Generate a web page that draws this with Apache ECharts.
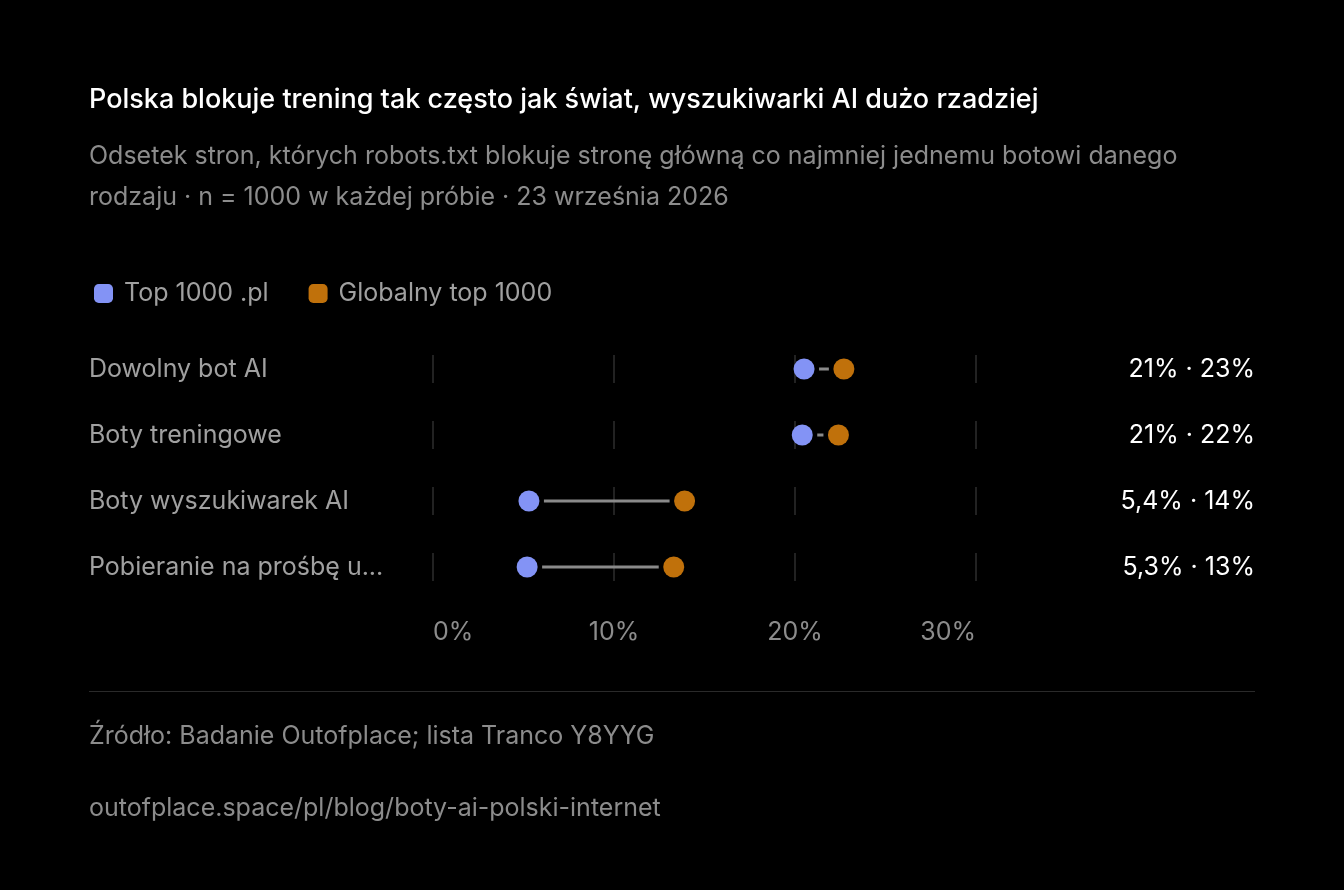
<!DOCTYPE html>
<html><head><meta charset="utf-8">
<script src="https://cdn.jsdelivr.net/npm/echarts@6/dist/echarts.min.js"></script>
<style>html,body{margin:0;background:#000}#c{width:1344px;height:890px}</style>
</head><body><div id="c"></div>
<script>
var categories=['Dowolny bot AI','Boty treningowe','Boty wyszukiwarek AI','Pobieranie na prośbę u...'];
var plValues=[20.5,20.4,5.3,5.2];
var globalValues=[22.7,22.4,13.9,13.3];
var valueLabels=['21% · 23%','21% · 22%','5,4% · 14%','5,3% · 13%'];
var tickValues=[0,10,20,30];
var font='Inter';
var fs=25;

var chart=echarts.init(document.getElementById('c'));
// krótkie pionowe kreski siatki w każdym wierszu
var gridData=[];
for(var i=0;i<categories.length;i++){for(var t=0;t<tickValues.length;t++){gridData.push([tickValues[t],i]);}}
var option={
  backgroundColor:'#000',
  animation:false,
  textStyle:{fontFamily:font},
  graphic:[
    {type:'text',left:89,top:86,style:{text:'Polska blokuje trening tak często jak świat, wyszukiwarki AI dużo rzadziej',fill:'#fff',font:'500 27px '+font}},
    {type:'text',left:89,top:136,style:{text:'Odsetek stron, których robots.txt blokuje stronę główną co najmniej jednemu botowi danego\nrodzaju · n = 1000 w każdej próbie · 23 września 2026',fill:'#8c8c8c',font:fs+'px '+font,lineHeight:41}},
    {type:'rect',left:89,top:691,shape:{width:1166,height:1},style:{fill:'#2a2a2a'}},
    {type:'text',left:89,top:724,style:{text:'Źródło: Badanie Outofplace; lista Tranco Y8YYG',fill:'#8c8c8c',font:fs+'px '+font}},
    {type:'text',left:89,top:796,style:{text:'outofplace.space/pl/blog/boty-ai-polski-internet',fill:'#8c8c8c',font:fs+'px '+font}}
  ],
  legend:{left:89,top:276,itemWidth:19,itemHeight:19,itemGap:40,icon:'roundRect',
    textStyle:{color:'#a0a0a0',fontSize:fs,fontFamily:font,padding:[0,0,0,6]},
    data:['Top 1000 .pl','Globalny top 1000']},
  grid:{left:433,right:368,top:336,height:264},
  xAxis:{type:'value',min:0,max:30,interval:10,
    axisLine:{show:false},axisTick:{show:false},splitLine:{show:false},
    axisLabel:{color:'#8c8c8c',fontSize:fs,fontFamily:font,margin:20,formatter:'{value}%',alignMinLabel:'left',alignMaxLabel:'right'}},
  yAxis:[
    {type:'category',inverse:true,data:categories,axisLine:{show:false},axisTick:{show:false},
      axisLabel:{color:'#a0a0a0',fontSize:fs,fontFamily:font,align:'left',margin:344}},
    {type:'category',inverse:true,position:'right',data:valueLabels,axisLine:{show:false},axisTick:{show:false},
      axisLabel:{color:'#fff',fontSize:fs,fontFamily:font,align:'right',margin:279}}
  ],
  series:[
    {type:'custom',silent:true,data:gridData,renderItem:function(p,api){
      var c=api.coord([api.value(0),api.value(1)]);
      return {type:'line',shape:{x1:c[0],y1:c[1]-14,x2:c[0],y2:c[1]+14},style:{stroke:'#2e2e2e',lineWidth:1.5}};
    }},
    {type:'custom',silent:true,data:categories.map(function(c,i){return [plValues[i],globalValues[i],i];}),
      renderItem:function(p,api){
        var a=api.coord([api.value(0),api.value(2)]),b=api.coord([api.value(1),api.value(2)]);
        return {type:'line',shape:{x1:a[0]+15,y1:a[1],x2:b[0]-15,y2:b[1]},style:{stroke:'#8a8a8a',lineWidth:3}};
      }},
    {name:'Top 1000 .pl',type:'scatter',symbolSize:21,itemStyle:{color:'#8393f5',opacity:1},
      data:plValues.map(function(v,i){return [v,i];}),z:5},
    {name:'Globalny top 1000',type:'scatter',symbolSize:21,itemStyle:{color:'#c0710b',opacity:1},
      data:globalValues.map(function(v,i){return [v,i];}),z:5}
  ]
};
chart.setOption(option);
</script></body></html>
